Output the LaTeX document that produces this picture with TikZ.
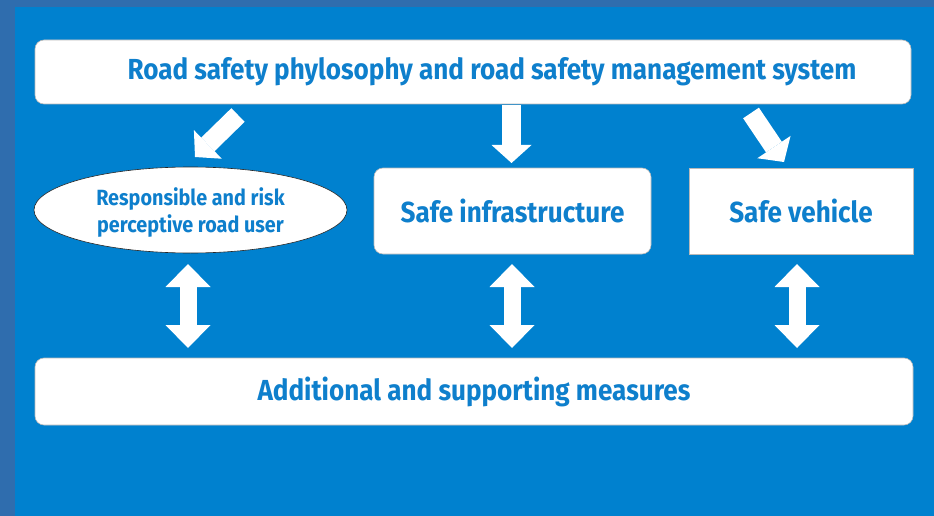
\documentclass[tikz,border=0pt]{standalone}
\usepackage{fontspec}
\usepackage{tikz}
\usetikzlibrary{positioning, arrows.meta, shapes.geometric}
\newfontfamily\diafont{Fira Sans}[FakeStretch=0.9]

\definecolor{pageblue}{HTML}{0081CF}
\definecolor{edgeblue}{HTML}{2F6DAE}
\definecolor{textblue}{HTML}{0E7FCC}

\begin{document}
\begin{tikzpicture}[x=1pt, y=-1pt,
  box/.style={draw=gray!55, fill=white, line width=0.6pt, font=\diafont\bfseries\fontsize{29}{32}\selectfont, text=textblue},
  roundbox/.style={box, rounded corners=9pt},
  bigarrow/.style={white, line width=19pt, -{Triangle[length=18pt, width=40pt, line width=0pt]}},
  twoway/.style={white, line width=17pt, {Triangle[length=23pt, width=45pt, line width=0pt]}-{Triangle[length=23pt, width=45pt, line width=0pt]}}]

% Background
\fill[edgeblue] (0,0) rectangle (934,516);
\fill[pageblue] (15,7) rectangle (934,516);
\useasboundingbox (0,0) rectangle (934,516);

% Nodes
\node[roundbox, minimum width=876pt, minimum height=64pt,
  label={[xshift=19pt, font=\diafont\bfseries\fontsize{29}{32}\selectfont, text=textblue]center:Road safety phylosophy and road safety management system}]
  (system) at (473,72) {};
\node[box, ellipse, draw=black!85, minimum width=313pt, minimum height=86pt, align=center,
  text depth=0pt, font=\diafont\bfseries\fontsize{22}{27}\selectfont]
  (user) at (190.5,210) {Responsible and risk\\perceptive road user};
\node[roundbox, minimum width=277pt, minimum height=86pt] (infra) at (512.5,211) {Safe infrastructure};
\node[box, minimum width=224pt, minimum height=86pt] (vehicle) at (801,211) {Safe vehicle};
\node[roundbox, minimum width=878pt, minimum height=67pt] (measures) at (474,391.5) {Additional and supporting measures};

% Arrow ends
\coordinate (a1) at (238,115);
\coordinate (b1) at (195,157);
\coordinate (a2) at (511.5,105);
\coordinate (b2) at (511.5,163);
\coordinate (a3) at (751,113);
\coordinate (b3) at (784,162);
\coordinate (c1) at (188,264);
\coordinate (d1) at (188,348);
\coordinate (c2) at (512,264);
\coordinate (d2) at (512,348);
\coordinate (c3) at (797,264);
\coordinate (d3) at (797,348);

% Arrows
\draw[bigarrow] (a1) -- (b1);
\draw[bigarrow] (a2) -- (b2);
\draw[bigarrow] (a3) -- (b3);
\draw[twoway] (c1) -- (d1);
\draw[twoway] (c2) -- (d2);
\draw[twoway] (c3) -- (d3);

\end{tikzpicture}
\end{document}
